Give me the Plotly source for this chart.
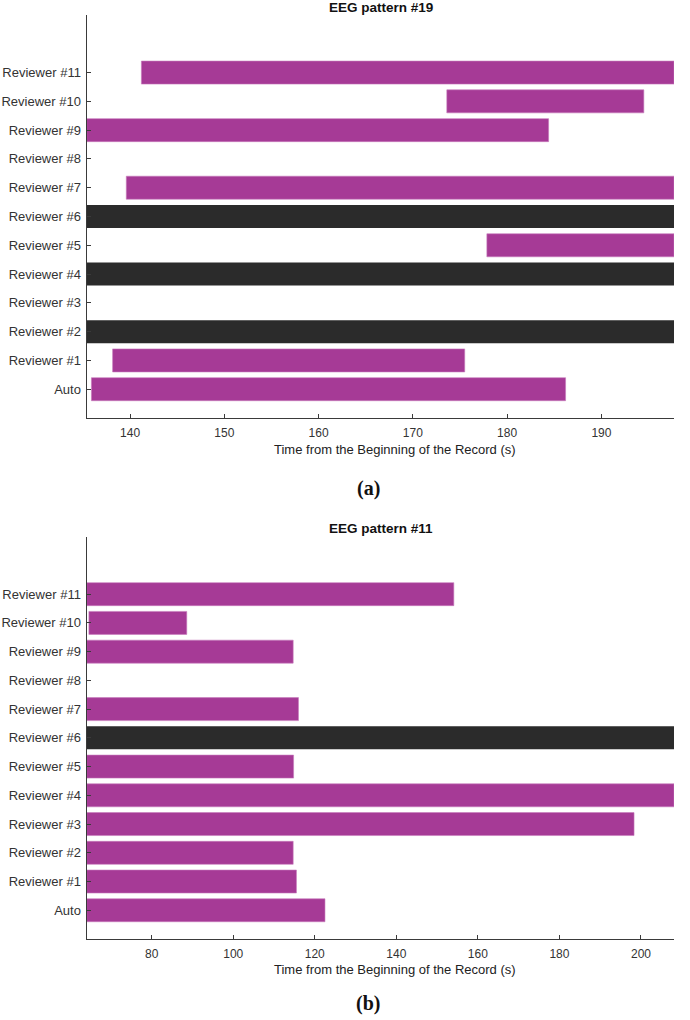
import plotly.graph_objects as go

# ---------------- data ----------------
row_labels = ["Auto", "Reviewer #1", "Reviewer #2", "Reviewer #3", "Reviewer #4",
              "Reviewer #5", "Reviewer #6", "Reviewer #7", "Reviewer #8",
              "Reviewer #9", "Reviewer #10", "Reviewer #11"]

# Panel (a): EEG pattern #19
a_title = "EEG pattern #19"
a_xrange = [135.4, 197.7]
a_ticks = [140, 150, 160, 170, 180, 190]
a_det_rows = ["Auto", "Reviewer #1", "Reviewer #5", "Reviewer #7", "Reviewer #9",
              "Reviewer #10", "Reviewer #11"]
a_det_start = [135.9, 138.15, 177.85, 139.6, 135.4, 173.6, 141.2]
a_det_end = [186.2, 175.5, 197.7, 197.7, 184.4, 194.5, 197.7]
a_dark_rows = ["Reviewer #2", "Reviewer #4", "Reviewer #6"]
a_dark_start = [135.4, 135.4, 135.4]
a_dark_end = [197.7, 197.7, 197.7]

# Panel (b): EEG pattern #11
b_title = "EEG pattern #11"
b_xrange = [64.06, 208.1]
b_ticks = [80, 100, 120, 140, 160, 180, 200]
b_det_rows = ["Auto", "Reviewer #1", "Reviewer #2", "Reviewer #3", "Reviewer #4",
              "Reviewer #5", "Reviewer #7", "Reviewer #9", "Reviewer #10",
              "Reviewer #11"]
b_det_start = [64.06, 64.06, 64.06, 64.06, 64.06, 64.06, 64.06, 64.06, 64.6, 64.06]
b_det_end = [122.5, 115.5, 114.7, 198.3, 208.1, 114.8, 116.0, 114.7, 88.6, 154.1]
b_dark_rows = ["Reviewer #6"]
b_dark_start = [64.06]
b_dark_end = [208.1]

x_title = "Time from the Beginning of the Record (s)"
panel_labels = ["(a)", "(b)"]

# ---------------- layout helpers ----------------
W, H = 690, 1020
PURPLE = "#A63A96"
DARK = "#2B2B2B"
AX = "#3a3a3a"
FONT = "Liberation Sans, Arial, sans-serif"

def px_x(p):
    return p / W

def px_y(p):
    return 1 - p / H

x_dom = [px_x(86.7), px_x(674)]
panels = [
    dict(title=a_title, xr=a_xrange, ticks=a_ticks,
         ds=a_det_rows, d0=a_det_start, d1=a_det_end,
         ks=a_dark_rows, k0=a_dark_start, k1=a_dark_end,
         top=15, bot=418, title_y=7.5, xt_y=449, lab_y=488),
    dict(title=b_title, xr=b_xrange, ticks=b_ticks,
         ds=b_det_rows, d0=b_det_start, d1=b_det_end,
         ks=b_dark_rows, k0=b_dark_start, k1=b_dark_end,
         top=536.7, bot=939, title_y=528, xt_y=969, lab_y=1003),
]

fig = go.Figure()
annotations = []
idx = {lab: i for i, lab in enumerate(row_labels)}

for n, p in enumerate(panels):
    xa = "x" if n == 0 else "x2"
    ya = "y" if n == 0 else "y2"
    fig.add_trace(go.Bar(
        orientation="h",
        y=[idx[r] for r in p["ds"]],
        base=p["d0"],
        x=[e - s for s, e in zip(p["d0"], p["d1"])],
        width=0.8,
        marker=dict(color=PURPLE, line=dict(color="#C77BBC", width=0.6)),
        xaxis=xa, yaxis=ya, showlegend=False, hoverinfo="skip",
    ))
    fig.add_trace(go.Bar(
        orientation="h",
        y=[idx[r] for r in p["ks"]],
        base=p["k0"],
        x=[e - s for s, e in zip(p["k0"], p["k1"])],
        width=0.8,
        marker=dict(color=DARK, line=dict(width=0)),
        xaxis=xa, yaxis=ya, showlegend=False, hoverinfo="skip",
    ))
    dom_y = [px_y(p["bot"]), px_y(p["top"])]
    xkey = "xaxis" if n == 0 else "xaxis2"
    ykey = "yaxis" if n == 0 else "yaxis2"
    fig.layout[xkey] = dict(
        domain=x_dom, range=p["xr"], anchor=ya,
        tickmode="array", tickvals=p["ticks"],
        ticks="inside", ticklen=4, tickcolor=AX, tickwidth=1,
        showline=True, linecolor=AX, linewidth=1.2,
        showgrid=False, zeroline=False,
        tickfont=dict(family=FONT, size=12, color="#333"),
        ticklabelstandoff=3,
    )
    fig.layout[ykey] = dict(
        domain=dom_y, range=[-1, 13], anchor=xa,
        tickmode="array", tickvals=list(range(len(row_labels))),
        ticktext=row_labels,
        ticks="inside", ticklen=4, tickcolor=AX, tickwidth=1,
        showline=True, linecolor=AX, linewidth=1.2,
        showgrid=False, zeroline=False,
        tickfont=dict(family=FONT, size=13, color="#333"),
        ticklabelstandoff=2,
    )
    annotations.append(dict(
        text="<b>" + p["title"] + "</b>", x=px_x(381), y=px_y(p["title_y"]),
        xref="paper", yref="paper", xanchor="center", yanchor="middle",
        showarrow=False, font=dict(family=FONT, size=13.5, color="#111")))
    annotations.append(dict(
        text=x_title, x=px_x(394.5), y=px_y(p["xt_y"]),
        xref="paper", yref="paper", xanchor="center", yanchor="middle",
        showarrow=False, font=dict(family=FONT, size=13, color="#222")))
    annotations.append(dict(
        text="<b>" + panel_labels[n] + "</b>", x=px_x(368), y=px_y(p["lab_y"]),
        xref="paper", yref="paper", xanchor="center", yanchor="middle",
        showarrow=False,
        font=dict(family="Liberation Serif, Times New Roman, serif", size=20, color="#111")))

fig.update_layout(
    width=W, height=H,
    margin=dict(l=0, r=0, t=0, b=0),
    paper_bgcolor="white", plot_bgcolor="white",
    barmode="overlay",
    annotations=annotations,
)

fig.write_html("out.html",
               config={"displayModeBar": False, "staticPlot": True},
               post_script="document.body.style.margin='0px';document.body.style.padding='0px';")
